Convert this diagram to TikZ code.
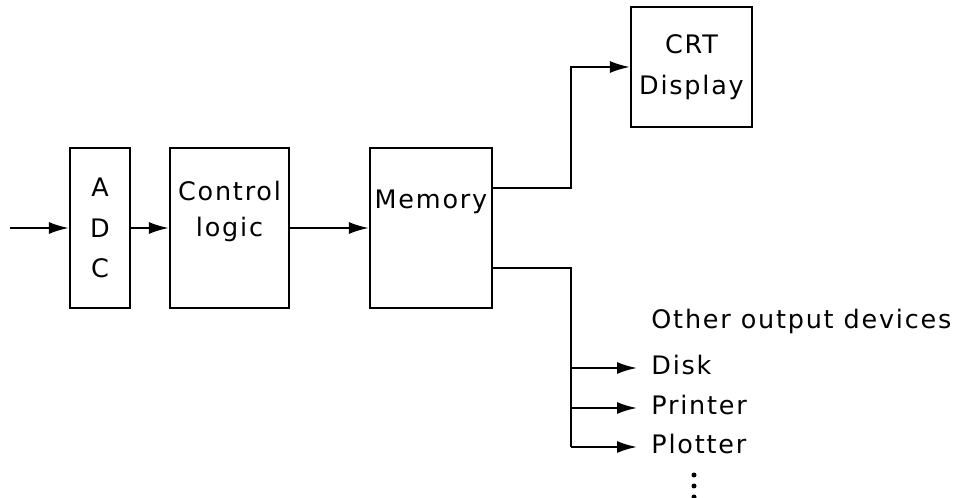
\documentclass[tikz,border=0pt]{standalone}
\usepackage{fontspec}
\setmainfont[LetterSpace=7]{DejaVu Sans}
\usetikzlibrary{arrows.meta, calc, positioning}

\begin{document}
\begin{tikzpicture}[
    font=\fontsize{14.5}{23}\selectfont,
    box/.style={draw, line width=1.2pt, inner sep=0pt, minimum height=3.2cm, align=center},
    sig/.style={line width=1.2pt, -{Latex[length=4mm, width=2.4mm]}},
    wire/.style={line width=1.2pt},
    devlabel/.style={anchor=west, inner xsep=8pt, inner ysep=0pt, text height=0.73em, text depth=0pt}
]
    \useasboundingbox (0, 0) rectangle (19.08, 9.96);

    % 方框
    \node[box, minimum width=1.2cm] (adc) at (2.0, 5.4) {A\\D\\C};
    \node[box, minimum width=2.38cm,
          label={[anchor=north, yshift=-0.55cm, align=center, font=\fontsize{14.5}{21}\selectfont]north:Control\\logic}] (ctl) at (4.59, 5.4) {};
    \node[box, minimum width=2.44cm,
          label={[anchor=north, yshift=-0.74cm]north:Memory}] (mem) at (8.62, 5.4) {};
    \node[box, minimum width=2.42cm, minimum height=2.4cm] (crt) at (13.83, 8.62) {CRT\\Display};

    % 输出设备
    \node[devlabel] (other) at (12.74, 3.52) {Other output devices};
    \node[devlabel] (disk) at (12.74, 2.6) {Disk};
    \node[devlabel] (printer) at (12.74, 1.8) {Printer};
    \node[devlabel] (plotter) at (12.74, 1.02) {Plotter};

    % 连线
    \coordinate (in) at (0.2, 5.4);
    \coordinate (bus) at (11.42, 5.4);
    \draw[sig] (in) -- (adc);
    \draw[sig] (adc) -- (ctl);
    \draw[sig] (ctl) -- (mem);
    \draw[sig] ([yshift=0.8cm]mem.east) -| (bus |- crt.west) -- (crt.west);
    \draw[wire] ([yshift=-0.8cm]mem.east) -| (bus |- plotter.west);
    \foreach \o in {disk, printer, plotter} {
        \draw[sig] (bus |- \o.west) -- (\o.west);
    }

    % 省略点
    \foreach \y in {0.46, 0.24, 0.02} {
        \fill (13.88, \y) circle (0.05);
    }
\end{tikzpicture}
\end{document}
